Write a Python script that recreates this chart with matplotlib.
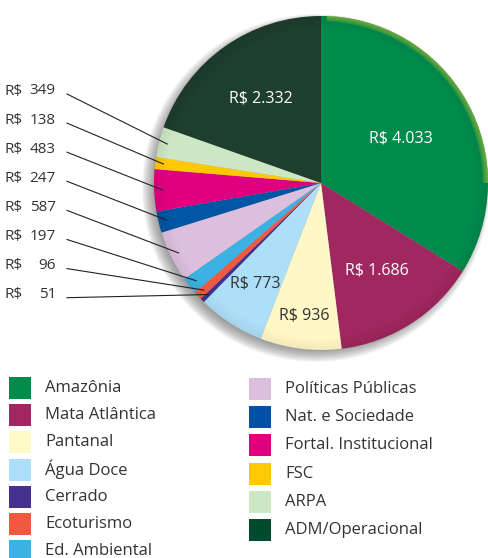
import matplotlib.pyplot as plt
from matplotlib.patches import Rectangle, Circle, Wedge
import numpy as np

categories = ['Amazônia', 'Mata Atlântica', 'Pantanal', 'Água Doce', 'Cerrado',
              'Ecoturismo', 'Ed. Ambiental', 'Políticas Públicas', 'Nat. e Sociedade',
              'Fortal. Institucional', 'FSC', 'ARPA', 'ADM/Operacional']
values = [4033, 1686, 936, 773, 51, 96, 197, 587, 247, 483, 138, 349, 2332]
value_labels = ['4.033', '1.686', '936', '773', '51', '96', '197', '587', '247',
                '483', '138', '349', '2.332']
colors = ['#008a4c', '#a0275f', '#fff7c6', '#ade0f8', '#44308f', '#f05a40', '#3bb2e3',
          '#dcbfdc', '#0055a5', '#e0007f', '#ffc800', '#cde6c3', '#1e3e2e']
legend_colors = ['#008a4c', '#a0275f', '#fff9c8', '#ade0f8', '#44308f', '#f05a40', '#3bb2e3',
                 '#dcbfdc', '#0050a5', '#e0007f', '#ffc800', '#cde6c3', '#004b2f']

W, H = 488, 558
fig = plt.figure(figsize=(W / 100, H / 100), dpi=100)
ax = fig.add_axes([0, 0, 1, 1])

font = 'Open Sans'
cx, cy, r = 321, H - 183, 167

# soft shadow behind the pie
for i in range(14):
    ax.add_patch(Circle((cx - 5, cy - 5), r + 7 - i * 0.9, color='#555555',
                        alpha=0.05, lw=0, zorder=1))

wedges, _ = ax.pie(values, colors=colors, startangle=90, counterclock=False,
                   center=(cx, cy), radius=r, frame=True,
                   wedgeprops=dict(linewidth=0, zorder=2))
ax.set_xlim(0, W)
ax.set_ylim(0, H)
ax.set_aspect('equal')
ax.axis('off')

# lighter rim on the top right
for i in range(6):
    ax.add_patch(Wedge((cx, cy), r, 0, 88, width=1.0 + i * 0.9, color='#9cc23c',
                       alpha=0.18, lw=0, zorder=3))

# edge shading
for i in range(10):
    ax.add_patch(Circle((cx, cy), r - i * 1.2, fill=False, ec='black',
                        lw=1.4, alpha=0.035 * (10 - i) / 10, zorder=3))

# labels inside the big wedges
inside = {0: (0.55, 'white'), 1: (0.62, 'white'), 2: (0.8, '#333333'),
          3: (0.72, '#333333'), 12: (0.62, 'white')}
for idx, (k, col) in inside.items():
    w = wedges[idx]
    ang = np.deg2rad((w.theta1 + w.theta2) / 2)
    ax.text(cx + k * r * np.cos(ang), cy + k * r * np.sin(ang),
            'R$ ' + value_labels[idx], color=col, fontsize=11.5, family=font,
            ha='center', va='center', zorder=5)

# leader labels on the left for the small wedges (from ARPA down to Cerrado)
small = [11, 10, 9, 8, 7, 6, 5, 4]
for j, idx in enumerate(small):
    ty = H - (91 + j * 29.1)
    ax.text(5, ty, 'R$', fontsize=11, family=font, color='#333333',
            ha='left', va='center')
    ax.text(56, ty, value_labels[idx], fontsize=11, family=font, color='#333333',
            ha='right', va='center')
    w = wedges[idx]
    ang = np.deg2rad((w.theta1 + w.theta2) / 2)
    ex, ey = cx + 0.95 * r * np.cos(ang), cy + 0.95 * r * np.sin(ang)
    ax.plot([67, ex], [ty - 3, ey], color='#222222', lw=0.8, zorder=6)

# legend
for i, (name, col) in enumerate(zip(categories, legend_colors)):
    if i < 7:
        x0, yc = 9, H - (388 + i * 27.2)
    else:
        x0, yc = 249, H - (389 + (i - 7) * 28.2)
    ax.add_patch(Rectangle((x0, yc - 11), 22, 22, color=col, lw=0, zorder=4))
    ax.text(x0 + 36, yc, name, fontsize=12, family=font, color='#333333',
            ha='left', va='center')

fig.savefig('out.png', dpi=100)
